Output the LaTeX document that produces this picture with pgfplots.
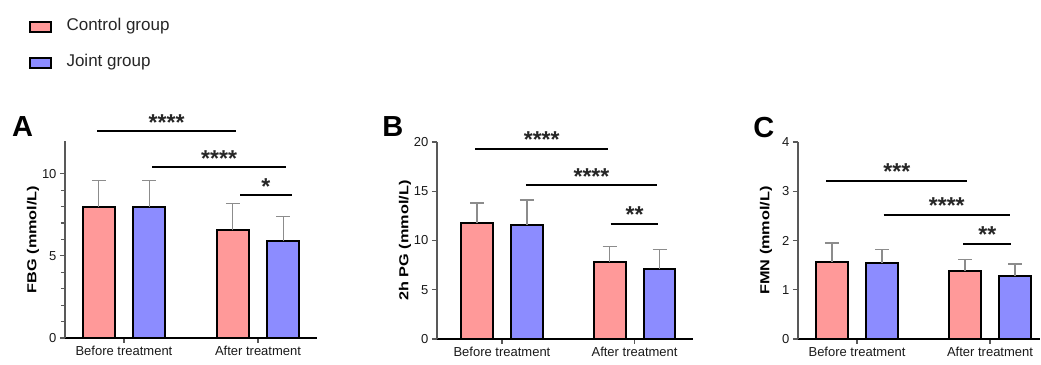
\documentclass[border=0pt]{standalone}
\usepackage{fontspec}
\setmainfont{Liberation Sans}
\usepackage{graphicx}
\usepackage{pgfplots}
\pgfplotsset{compat=1.18}
\definecolor{ctrl}{RGB}{255,153,153}
\definecolor{jnt}{RGB}{140,140,255}
\definecolor{errc}{RGB}{140,140,140}

\tikzset{
  sig/.style={line width=2.2pt, black},
  stars/.style={font=\bfseries\fontsize{23}{23}\selectfont, text=black!85, anchor=base, inner sep=0pt, yshift=1pt},
}
\pgfplotsset{
  panel/.style={
    scale only axis, height=197pt,
    anchor=south west,
    axis x line*=bottom, axis y line*=left,
    x axis line style={line width=2.2pt, black, -},
    y axis line style={line width=1.5pt, black!65, -},
    xtick={0,1}, xticklabels={Before treatment, After treatment},
    tick align=outside,
    major tick length=5pt, minor tick length=4pt,
    tick style={black!65, line width=1.2pt},
    tick label style={font=\fontsize{13}{15}\selectfont, text=black!90},
    /pgf/number format/assume math mode=true,
    ymin=0, clip=false,
    ybar, bar width=0.24,
    ylabel style={at={([xshift=-32pt]axis description cs:0,0.5)}, anchor=center, font=\bfseries\fontsize{13}{15}\selectfont},
  },
  ctrlbar/.style={fill=ctrl, draw=black, line width=2pt, bar shift=-0.188,
    error bars/.cd, y dir=plus, y explicit,
    error bar style={errc, line width=1.3pt},
    error mark options={rotate=90, errc, line width=1.3pt, mark size=7pt}},
  jntbar/.style={fill=jnt, draw=black, line width=2pt, bar shift=0.188,
    error bars/.cd, y dir=plus, y explicit,
    error bar style={errc, line width=1.3pt},
    error mark options={rotate=90, errc, line width=1.3pt, mark size=7pt}},
}

\begin{document}
\begin{tikzpicture}[x=1pt, y=1pt]
\path (0,0) rectangle (1041,365);

% legend
\draw[fill=ctrl, draw=black, line width=2pt] (30,333) rectangle (51,343);
\node[anchor=west, font=\fontsize{17}{18}\selectfont, text=black!85] at (63,338.5) {Control group};
\draw[fill=jnt, draw=black, line width=2pt] (30,297) rectangle (51,307);
\node[anchor=west, font=\fontsize{17}{18}\selectfont, text=black!85] at (63,302.5) {Joint group};

% panel letters
\node[font=\bfseries\fontsize{29}{30}\selectfont] at (22.5,238.5) {A};
\node[font=\bfseries\fontsize{29}{30}\selectfont] at (393,238.5) {B};
\node[font=\bfseries\fontsize{29}{30}\selectfont] at (764,237.5) {C};

% Panel A
\begin{axis}[panel, at={(65pt,27pt)}, width=252pt,
  xmin=-0.44, xmax=1.44, ymax=12,
  ytick={0,5,10}, minor y tick num=4,
  ylabel={\scalebox{1.25}[1]{FBG (mmol/L)}}]
\addplot[ctrlbar] coordinates {(0,8.0) +- (0,1.6) (1,6.55) +- (0,1.65)};
\addplot[jntbar] coordinates {(0,8.0) +- (0,1.6) (1,5.9) +- (0,1.5)};
\draw[sig] (axis cs:-0.2,12.6) -- (axis cs:0.836,12.6);
\node[stars] at (axis cs:0.318,12.6) {****};
\draw[sig] (axis cs:0.21,10.4) -- (axis cs:1.21,10.4);
\node[stars] at (axis cs:0.71,10.4) {****};
\draw[sig, line width=1.7pt] (axis cs:0.866,8.7) -- (axis cs:1.25,8.7);
\node[stars] at (axis cs:1.058,8.7) {*};
\end{axis}

% Panel B
\begin{axis}[panel, at={(437pt,26pt)}, width=256pt,
  xmin=-0.49, xmax=1.44, ymax=20,
  ytick={0,5,10,15,20},
  ylabel={\scalebox{1.25}[1]{2h PG (mmol/L)}}]
\addplot[ctrlbar] coordinates {(0,11.8) +- (0,2.0) (1,7.8) +- (0,1.6)};
\addplot[jntbar] coordinates {(0,11.6) +- (0,2.5) (1,7.1) +- (0,1.95)};
\draw[sig] (axis cs:-0.2,19.3) -- (axis cs:0.80,19.3);
\node[stars] at (axis cs:0.30,19.3) {****};
\draw[sig] (axis cs:0.18,15.6) -- (axis cs:1.17,15.6);
\node[stars] at (axis cs:0.675,15.6) {****};
\draw[sig] (axis cs:0.82,11.7) -- (axis cs:1.18,11.7);
\node[stars] at (axis cs:1.0,11.7) {**};
\end{axis}

% Panel C
\begin{axis}[panel, at={(798pt,26pt)}, width=242pt,
  xmin=-0.444, xmax=1.375, ymax=4,
  ytick={0,1,2,3,4},
  ylabel={\scalebox{1.25}[1]{FMN (mmol/L)}}]
\addplot[ctrlbar] coordinates {(0,1.57) +- (0,0.38) (1,1.39) +- (0,0.22)};
\addplot[jntbar] coordinates {(0,1.54) +- (0,0.28) (1,1.27) +- (0,0.25)};
\draw[sig] (axis cs:-0.23,3.21) -- (axis cs:0.83,3.21);
\node[stars] at (axis cs:0.30,3.21) {***};
\draw[sig] (axis cs:0.2,2.52) -- (axis cs:1.15,2.52);
\node[stars] at (axis cs:0.675,2.52) {****};
\draw[sig] (axis cs:0.8,1.93) -- (axis cs:1.16,1.93);
\node[stars] at (axis cs:0.98,1.93) {**};
\end{axis}
\end{tikzpicture}
\end{document}
